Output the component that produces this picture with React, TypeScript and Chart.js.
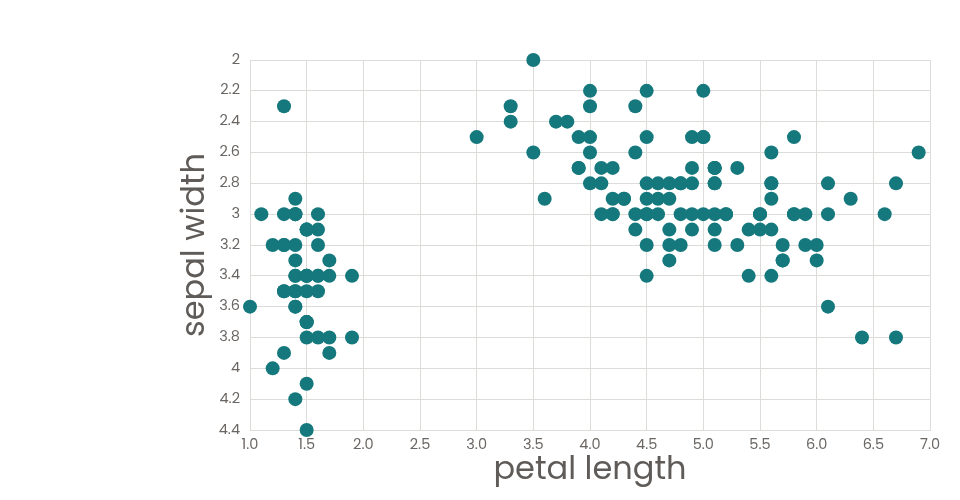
import React, { useEffect, useRef } from "react";
import { Chart, registerables } from "chart.js";

Chart.register(...registerables);

const petalLength: number[] = [
  1.4, 1.4, 1.3, 1.5, 1.4, 1.7, 1.4, 1.5, 1.4, 1.5, 1.5, 1.6, 1.4, 1.1, 1.2, 1.5, 1.3, 1.4, 1.7, 1.5,
  1.7, 1.5, 1.0, 1.7, 1.9, 1.6, 1.6, 1.5, 1.4, 1.6, 1.6, 1.5, 1.5, 1.4, 1.5, 1.2, 1.3, 1.4, 1.3, 1.5,
  1.3, 1.3, 1.3, 1.6, 1.9, 1.4, 1.6, 1.4, 1.5, 1.4,
  4.7, 4.5, 4.9, 4.0, 4.6, 4.5, 4.7, 3.3, 4.6, 3.9, 3.5, 4.2, 4.0, 4.7, 3.6, 4.4, 4.5, 4.1, 4.5, 3.9,
  4.8, 4.0, 4.9, 4.7, 4.3, 4.4, 4.8, 5.0, 4.5, 3.5, 3.8, 3.7, 3.9, 5.1, 4.5, 4.5, 4.7, 4.4, 4.1, 4.0,
  4.4, 4.6, 4.0, 3.3, 4.2, 4.2, 4.2, 4.3, 3.0, 4.1,
  6.0, 5.1, 5.9, 5.6, 5.8, 6.6, 4.5, 6.3, 5.8, 6.1, 5.1, 5.3, 5.5, 5.0, 5.1, 5.3, 5.5, 6.7, 6.9, 5.0,
  5.7, 4.9, 6.7, 4.9, 5.7, 6.0, 4.8, 4.9, 5.6, 5.8, 6.1, 6.4, 5.6, 5.1, 5.6, 6.1, 5.6, 5.5, 4.8, 5.4,
  5.6, 5.1, 5.1, 5.9, 5.7, 5.2, 5.0, 5.2, 5.4, 5.1,
];

const sepalWidth: number[] = [
  3.5, 3.0, 3.2, 3.1, 3.6, 3.9, 3.4, 3.4, 2.9, 3.1, 3.7, 3.4, 3.0, 3.0, 4.0, 4.4, 3.9, 3.5, 3.8, 3.8,
  3.4, 3.7, 3.6, 3.3, 3.4, 3.0, 3.4, 3.5, 3.4, 3.2, 3.1, 3.4, 4.1, 4.2, 3.1, 3.2, 3.5, 3.6, 3.0, 3.4,
  3.5, 2.3, 3.2, 3.5, 3.8, 3.0, 3.8, 3.2, 3.7, 3.3,
  3.2, 3.2, 3.1, 2.3, 2.8, 2.8, 3.3, 2.4, 2.9, 2.7, 2.0, 3.0, 2.2, 2.9, 2.9, 3.1, 3.0, 2.7, 2.2, 2.5,
  3.2, 2.8, 2.5, 2.8, 2.9, 3.0, 2.8, 3.0, 2.9, 2.6, 2.4, 2.4, 2.7, 2.7, 3.0, 3.4, 3.1, 2.3, 3.0, 2.5,
  2.6, 3.0, 2.6, 2.3, 2.7, 3.0, 2.9, 2.9, 2.5, 2.8,
  3.3, 2.7, 3.0, 2.9, 3.0, 3.0, 2.5, 2.9, 2.5, 3.6, 3.2, 2.7, 3.0, 2.5, 2.8, 3.2, 3.0, 3.8, 2.6, 2.2,
  3.2, 2.8, 2.8, 2.7, 3.3, 3.2, 2.8, 3.0, 2.8, 3.0, 2.8, 3.8, 2.8, 2.8, 2.6, 3.0, 3.4, 3.1, 3.0, 3.1,
  3.1, 3.1, 2.7, 3.2, 3.3, 3.0, 2.5, 3.0, 3.4, 3.0,
];

const xTitle = "petal length";
const yTitle = "sepal width";

const FONT = "Poppins, Lato, 'Open Sans', sans-serif";
const TEXT = "#5f5b58";
const TICK = "#6a6663";
const GRID = "#dcdcd8";
const DOT = "#14787c";

export default function App() {
  const ref = useRef<HTMLCanvasElement | null>(null);

  useEffect(() => {
    if (!ref.current) return;
    const points = petalLength.map((x, i) => ({ x, y: sepalWidth[i] }));
    const chart = new Chart(ref.current, {
      type: "scatter",
      data: {
        datasets: [
          {
            data: points,
            backgroundColor: DOT,
            borderColor: DOT,
            borderWidth: 0,
            pointRadius: 7,
            pointHoverRadius: 7,
            clip: false as any,
          },
        ],
      },
      options: {
        animation: false,
        responsive: false,
        maintainAspectRatio: false,
        layout: { padding: { left: 177, top: 60, right: 30, bottom: 0 } },
        plugins: { legend: { display: false }, tooltip: { enabled: false } },
        scales: {
          x: {
            type: "linear",
            min: 1,
            max: 7,
            afterFit: (s: any) => {
              s.height = 70;
            },
            ticks: {
              stepSize: 0.5,
              padding: 7,
              color: TICK,
              font: { family: FONT, size: 14.5 },
              callback: (v: any) => Number(v).toFixed(1),
            },
            grid: { color: GRID, drawTicks: false, lineWidth: 1 },
            border: { color: GRID },
            title: {
              display: true,
              text: xTitle,
              color: TEXT,
              font: { family: FONT, size: 32 },
              padding: { top: 0, bottom: 10 },
            },
          },
          y: {
            type: "linear",
            reverse: true,
            min: 2,
            max: 4.4,
            afterFit: (s: any) => {
              s.width = 73;
            },
            ticks: {
              stepSize: 0.2,
              padding: 10,
              color: TICK,
              font: { family: FONT, size: 14.5 },
              callback: (v: any) => String(Math.round(Number(v) * 10) / 10),
            },
            grid: { color: GRID, drawTicks: false, lineWidth: 1 },
            border: { color: GRID },
            title: {
              display: true,
              text: yTitle,
              color: TEXT,
              font: { family: FONT, size: 32 },
              padding: { top: 0, bottom: 0 },
            },
          },
        },
      },
    });
    return () => chart.destroy();
  }, []);

  return (
    <div style={{ position: "fixed", left: 0, top: 0, width: 960, height: 500, background: "#fff" }}>
      <canvas ref={ref} width={960} height={500} style={{ width: 960, height: 500 }} />
    </div>
  );
}
